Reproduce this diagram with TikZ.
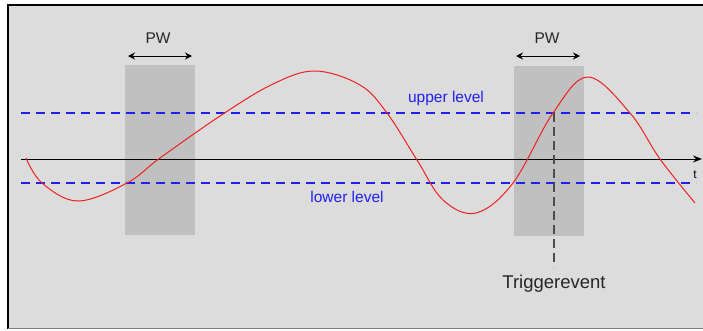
\documentclass[tikz,border=0pt]{standalone}
\usepackage{fontspec}
\setmainfont{Liberation Sans}
\usetikzlibrary{arrows.meta}
\definecolor{bg}{HTML}{DCDCDC}
\definecolor{shade}{HTML}{C0C0C0}
\definecolor{lvl}{HTML}{2020F0}
\definecolor{sig}{HTML}{F02020}
\tikzset{
  lvlline/.style={lvl, dash pattern=on 9pt off 6pt, line width=1.1pt},
  window/.style={fill=shade, draw=none},
  pwarrow/.style={{Stealth[length=7pt,width=7pt]}-{Stealth[length=7pt,width=7pt]}, line width=1pt, black},
  lbl/.style={inner sep=0pt, text=black!85, font=\fontsize{15.5}{16}\selectfont},
  lvllbl/.style={inner sep=0pt, text=lvl, font=\fontsize{15.5}{16}\selectfont},
}
\begin{document}
\begin{tikzpicture}[x=1pt,y=-1pt]
\useasboundingbox (0,0) rectangle (703,330);
\fill[white] (0,0) rectangle (703,330);
\fill[bg] (8,5) rectangle (703,329);
\draw[black, line width=1.2pt] (8,329) -- (8,5) -- (703,5);
\draw[gray, line width=1pt] (8,328.5) -- (703,328.5);
% windows
\node[window, minimum width=70pt, minimum height=170pt, anchor=north west] (w1) at (125,65) {};
\node[window, minimum width=70pt, minimum height=170pt, anchor=north west] (w2) at (514,66) {};
% PW
\coordinate (p1a) at (128,56); \coordinate (p1b) at (192,56);
\draw[pwarrow] (p1a) -- (p1b);
\node[lbl] (pw1) at (158,38) {PW};
\coordinate (p2a) at (516,56); \coordinate (p2b) at (580,56);
\draw[pwarrow] (p2a) -- (p2b);
\node[lbl] (pw2) at (547,38) {PW};
% levels
\coordinate (ul0) at (21,113); \coordinate (ul1) at (696,113);
\coordinate (ll0) at (21,183); \coordinate (ll1) at (696,183);
\draw[lvlline] (ul0) -- (ul1);
\draw[lvlline] (ll0) -- (ll1);
\node[lvllbl] (ul) at (446,98) {upper level};
\node[lvllbl] (ll) at (347,197) {lower level};
% axis
\coordinate (ax0) at (21,159); \coordinate (ax1) at (702,159);
\draw[black, line width=1pt, -{Stealth[length=9pt,width=7pt]}] (ax0) -- (ax1);
\node[inner sep=0pt, font=\fontsize{12}{12}\selectfont] (t) at (695,175) {t};
% trigger
\coordinate (tr0) at (554,113); \coordinate (tr1) at (554,267);
\draw[black!70, line width=1.2pt, dash pattern=on 9pt off 5pt] (tr0) -- (tr1);
\node[inner sep=0pt, text=black!85, font=\fontsize{18.5}{19}\selectfont] (trig) at (554,284) {Triggerevent};
% signal
\draw[sig, line width=1pt] plot[smooth, tension=0.6] coordinates {
 (26,158) (42,183) (78,201) (127,183) (160,158) (223,114) (273,84) (315,71) (360,85) (387,113) (417,160) (443,200) (476,213) (513,183) (553,113) (588,77) (630,113) (660,159) (695,203)};
\end{tikzpicture}
\end{document}
